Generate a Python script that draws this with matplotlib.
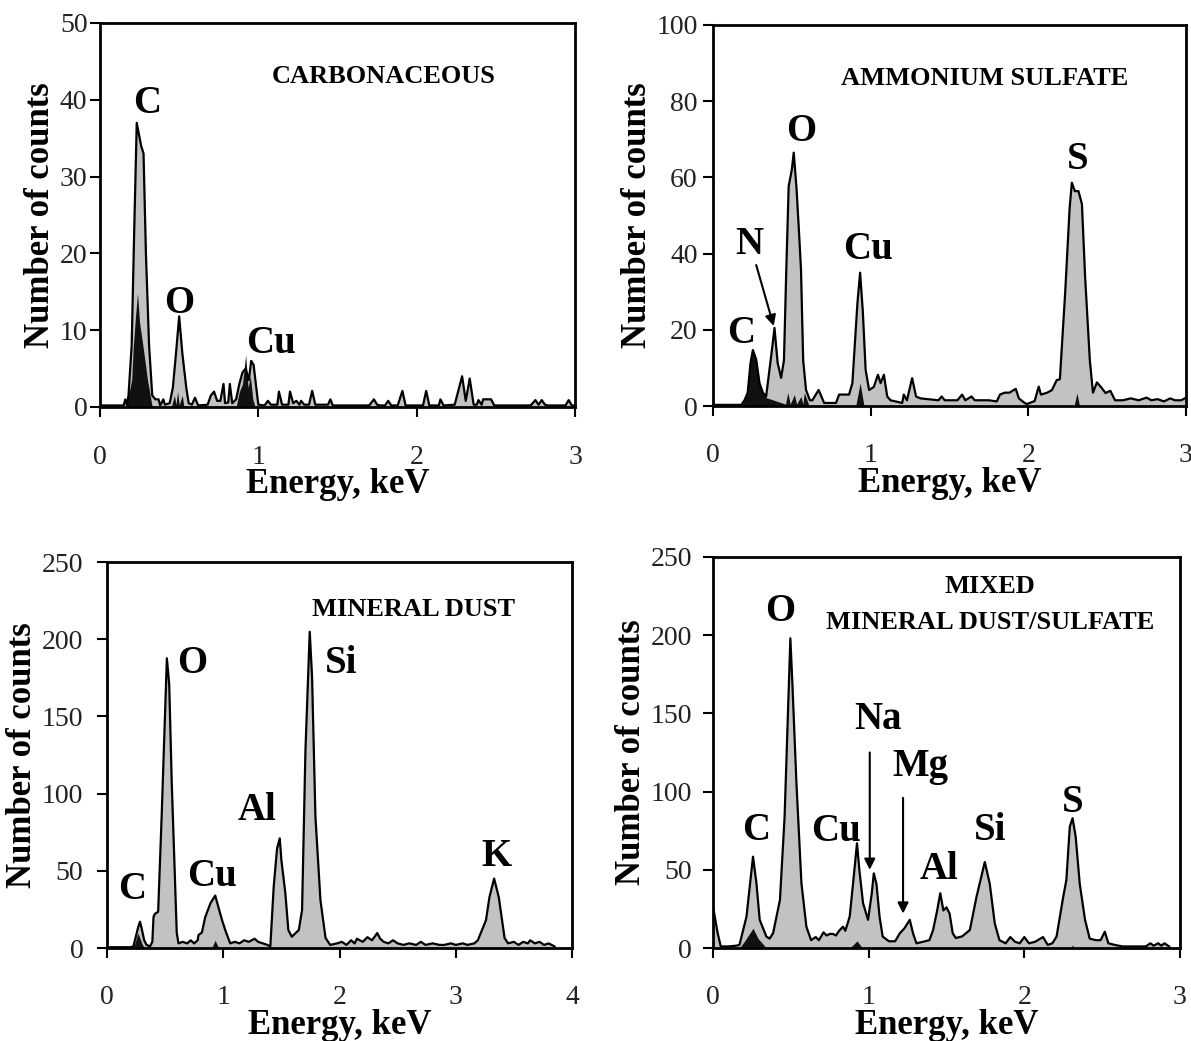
import numpy as np
import matplotlib
matplotlib.use("Agg")
import matplotlib.pyplot as plt

plt.rcParams['font.family'] = ['Liberation Serif', 'DejaVu Serif']

# ---- panel 1: carbonaceous (sample spectrum, grey) ----
e1 = [0.00, 0.15, 0.16, 0.17, 0.18, 0.20, 0.215, 0.232, 0.26, 0.275, 0.29, 0.31, 0.33, 0.35, 0.37,
      0.38, 0.40, 0.41, 0.44, 0.46, 0.48, 0.50, 0.52, 0.545, 0.56, 0.58, 0.60, 0.62, 0.68, 0.70,
      0.72, 0.74, 0.76, 0.78, 0.79, 0.81, 0.82, 0.835, 0.86, 0.88, 0.90, 0.92, 0.94, 0.955, 0.97,
      0.99, 1.00, 1.04, 1.06, 1.08, 1.12, 1.13, 1.15, 1.19, 1.20, 1.22, 1.24, 1.26, 1.27, 1.29,
      1.32, 1.34, 1.36, 1.44, 1.455, 1.47, 1.70, 1.73, 1.75, 1.77, 1.80, 1.82, 1.84, 1.88, 1.91,
      1.93, 2.04, 2.06, 2.08, 2.14, 2.15, 2.17, 2.24, 2.287, 2.31, 2.335, 2.36, 2.38, 2.39, 2.41,
      2.42, 2.47, 2.49, 2.72, 2.75, 2.77, 2.79, 2.81, 2.83, 2.94, 2.96, 2.98, 3.00]
c1 = [0.2, 0.2, 1.0, 0.3, 1.5, 8, 22, 37, 34, 33, 20, 8, 1.5, 1.0, 1.0,
      0.2, 1.0, 0.3, 0.5, 2.5, 7, 11.8, 7, 2.5, 0.5, 0.3, 1.2, 0.2, 0.3, 1.5,
      2.0, 0.8, 0.8, 3.0, 0.5, 0.6, 3.0, 0.5, 1.0, 3.0, 4.5, 5.0, 3.5, 6.0, 5.5,
      2.0, 0.3, 0.2, 0.8, 0.3, 0.3, 2.0, 0.3, 0.3, 2.0, 0.5, 0.8, 0.3, 0.8, 0.3,
      0.3, 2.1, 0.3, 0.3, 1.0, 0.2, 0.2, 1.0, 0.3, 0.2, 0.2, 0.8, 0.2, 0.2, 2.1,
      0.2, 0.2, 2.1, 0.2, 0.2, 1.0, 0.2, 0.3, 4.0, 0.8, 3.7, 0.3, 0.3, 0.9, 0.3,
      1.0, 1.0, 0.2, 0.2, 0.9, 0.3, 0.9, 0.3, 0.2, 0.2, 0.9, 0.2, 0.2]
# substrate / background spectrum (black)
eb1 = [0.00, 0.16, 0.18, 0.20, 0.21, 0.225, 0.237, 0.25, 0.275, 0.30, 0.33, 0.45, 0.47, 0.48,
       0.49, 0.50, 0.52, 0.53, 0.86, 0.88, 0.90, 0.92, 0.935, 0.95, 0.965, 0.98, 3.00]
cb1 = [0, 0, 1.5, 3.5, 7.8, 12, 14.8, 11, 7.4, 3.5, 0, 0, 1.5, 0.3,
       2.0, 0.3, 1.5, 0, 0, 2.0, 3.0, 6.8, 2.5, 4.0, 1.0, 0, 0]

# ---- panel 2: ammonium sulfate ----
e2 = [0.00, 0.18, 0.20, 0.22, 0.238, 0.253, 0.274, 0.295, 0.316, 0.337, 0.358, 0.379, 0.39, 0.41,
      0.432, 0.45, 0.465, 0.48, 0.50, 0.512, 0.53, 0.545, 0.558, 0.572, 0.59, 0.615, 0.63, 0.67,
      0.705, 0.74, 0.78, 0.80, 0.863, 0.884, 0.916, 0.933, 0.95, 0.968, 0.99, 1.02, 1.046, 1.063,
      1.084, 1.105, 1.126, 1.20, 1.21, 1.23, 1.263, 1.288, 1.316, 1.43, 1.45, 1.47, 1.55, 1.58,
      1.60, 1.64, 1.66, 1.75, 1.80, 1.82, 1.85, 1.88, 1.92, 1.94, 1.97, 1.99, 2.04, 2.066, 2.08,
      2.12, 2.15, 2.18, 2.20, 2.234, 2.262, 2.276, 2.295, 2.318, 2.34, 2.36, 2.39, 2.41, 2.435,
      2.46, 2.49, 2.52, 2.55, 2.60, 2.65, 2.70, 2.75, 2.78, 2.82, 2.86, 2.90, 2.93, 2.97, 3.00]
c2 = [0.3, 0.3, 1.5, 3.5, 11.3, 14.7, 12.2, 6, 3.5, 2.5, 9.5, 16.5, 20.5, 11.3,
      7.4, 12, 36, 57.7, 62, 66.5, 57, 46, 36, 12, 4.2, 1.5, 1.5, 4.2,
      0.8, 0.8, 0.8, 3.0, 3.0, 6, 27, 35, 25, 9.5, 4.2, 5, 8.2, 6,
      8.2, 2.5, 1.5, 0.8, 3.0, 1.5, 7.3, 2.5, 2.0, 1.5, 2.5, 1.5, 1.5, 3.0,
      1.5, 2.5, 1.5, 1.5, 1.2, 3.0, 3.5, 3.5, 4.5, 2.0, 1.0, 0.5, 1.3, 5.1, 3.0,
      3.5, 4.2, 6.8, 7.0, 30, 52, 58.6, 56.4, 56.4, 53, 34, 12, 3.5, 6.2,
      5, 3.4, 4, 1.5, 1.5, 2.0, 1.5, 2.2, 1.5, 1.8, 1.2, 2.0, 1.5, 1.5, 2.2]
eb2 = [0.00, 0.18, 0.20, 0.22, 0.238, 0.253, 0.274, 0.295, 0.316, 0.337, 0.46, 0.474, 0.49, 0.516,
       0.53, 0.558, 0.57, 0.579, 0.61, 0.905, 0.933, 0.958, 2.29, 2.308, 2.325, 3.00]
cb2 = [0, 0, 1.5, 3.5, 11.3, 14.7, 12.2, 6, 3.5, 2.2, 0.5, 3.5, 0.5, 3.0,
       0.5, 2.5, 0.5, 3.5, 0, 0, 6, 0, 0, 3.4, 0, 0]

# ---- panel 3: mineral dust ----
e3 = [0.00, 0.20, 0.227, 0.25, 0.27, 0.284, 0.30, 0.32, 0.34, 0.356, 0.37, 0.39, 0.40, 0.41, 0.44,
      0.47, 0.515, 0.535, 0.557, 0.60, 0.615, 0.65, 0.69, 0.72, 0.75, 0.78, 0.787, 0.816, 0.845,
      0.89, 0.931, 0.96, 0.99, 1.02, 1.06, 1.10, 1.14, 1.18, 1.22, 1.27, 1.30, 1.34, 1.38, 1.405,
      1.434, 1.463, 1.486, 1.50, 1.534, 1.56, 1.59, 1.62, 1.65, 1.678, 1.707, 1.744, 1.764, 1.793,
      1.836, 1.88, 1.92, 1.98, 2.02, 2.06, 2.10, 2.13, 2.15, 2.20, 2.24, 2.28, 2.325, 2.35, 2.38,
      2.42, 2.46, 2.50, 2.55, 2.60, 2.66, 2.70, 2.74, 2.80, 2.86, 2.90, 2.96, 3.00, 3.06, 3.10,
      3.16, 3.19, 3.26, 3.29, 3.33, 3.37, 3.42, 3.45, 3.50, 3.54, 3.58, 3.62, 3.64, 3.68, 3.72,
      3.76, 3.80, 3.85]
c3 = [0.5, 0.5, 1, 8, 14, 17, 12, 5, 2, 1.5, 1, 4, 20, 22, 23.5,
      85, 187.6, 171, 107, 9.7, 3, 4, 3, 5, 3, 5, 8.4, 10, 20,
      29, 34, 26, 18, 11, 3, 4, 3, 5, 4, 6, 4, 3, 2, 1,
      39.7, 64.5, 71, 57, 35.6, 11.6, 7.3, 9.5, 11.6, 24.6, 128, 204.8, 175.7, 85,
      31, 6.5, 2, 3, 4, 2, 5, 3, 6, 4, 7, 5, 9.7, 6, 4,
      3, 5, 3, 2, 3, 2, 4, 2, 3, 2, 2, 3, 2, 3, 2,
      3, 5, 18, 33, 45, 33, 6.5, 3, 4, 2, 4, 3, 5, 3, 4,
      2, 3, 1]
eb3 = [0.00, 0.22, 0.24, 0.265, 0.28, 0.30, 0.32, 0.90, 0.93, 0.96, 3.85]
cb3 = [0, 0, 3, 9.7, 7, 3, 0, 0, 5, 0, 0]

# ---- panel 4: mixed mineral dust / sulfate ----
e4 = [0.00, 0.03, 0.05, 0.10, 0.15, 0.17, 0.215, 0.257, 0.279, 0.30, 0.343, 0.364, 0.386, 0.43,
      0.46, 0.497, 0.51, 0.536, 0.568, 0.60, 0.63, 0.66, 0.68, 0.71, 0.73, 0.75, 0.77, 0.79, 0.81,
      0.835, 0.85, 0.878, 0.90, 0.925, 0.94, 0.964, 0.996, 1.02, 1.033, 1.05, 1.07, 1.09, 1.13,
      1.17, 1.20, 1.23, 1.264, 1.285, 1.307, 1.35, 1.39, 1.414, 1.44, 1.46, 1.48, 1.50, 1.52, 1.54,
      1.56, 1.60, 1.65, 1.693, 1.746, 1.778, 1.81, 1.84, 1.88, 1.91, 1.94, 1.97, 2.00, 2.03, 2.07,
      2.12, 2.15, 2.18, 2.207, 2.25, 2.27, 2.292, 2.31, 2.33, 2.356, 2.39, 2.42, 2.46, 2.49, 2.517,
      2.54, 2.58, 2.63, 2.70, 2.78, 2.81, 2.83, 2.86, 2.88, 2.90, 2.93]
c4 = [26.4, 9.5, 1, 1, 1.5, 2, 20, 58.4, 41.5, 18, 7.3, 6, 9.5, 30.7,
      84, 198, 169, 105.5, 41.5, 13.6, 5, 7, 5, 10, 8, 9, 9, 8, 11,
      13.6, 11, 20, 41.5, 67, 50, 28.6, 18, 35, 47.7, 41, 20, 7.3, 4.3,
      4.3, 9.4, 12.6, 18, 9.4, 3, 4, 5, 11.5, 24, 35, 24, 26, 22, 9.4,
      6.4, 7.4, 11.5, 32.8, 55, 41, 15.8, 5, 3, 7, 4, 3, 7, 3, 4,
      7, 2, 3, 7.3, 32.8, 43.5, 77.6, 83, 71, 41, 18, 6, 5, 5, 10.4,
      3, 2, 1, 1, 1, 3, 1.5, 3, 1.5, 3, 1]
eb4 = [0.00, 0.17, 0.20, 0.257, 0.29, 0.343, 0.88, 0.925, 0.96, 2.30, 2.31, 2.32, 2.93]
cb4 = [0, 0, 4, 12.6, 6, 0, 0, 4.5, 0, 0, 2, 0, 0]

GREY = '#c2c2c2'
LBL = dict(fontsize=28, fontweight='bold', ha='center', va='center')
TTL = dict(fontsize=19, fontweight='bold', ha='center', va='center')
ARROW = dict(arrowstyle='-|>', lw=1.5, color='k', mutation_scale=16, shrinkA=0, shrinkB=0)


def draw_spectrum(ax, e, c, eb, cb, xmax, ymax, xticks, yticks, ypad):
    ax.fill_between(e, c, 0, color=GREY, lw=0, zorder=1)
    ax.fill_between(eb, cb, 0, color='#111111', lw=0, zorder=2)
    ax.plot(e, c, color='k', lw=1.6, zorder=3)
    ax.set_xlim(0, xmax)
    ax.set_ylim(0, ymax)
    ax.set_xticks(xticks)
    ax.set_yticks(yticks)
    for s in ax.spines.values():
        s.set_linewidth(2.0)
    ax.tick_params(axis='both', direction='out', length=7, width=1.5, labelsize=20,
                   labelcolor='#222222')
    ax.tick_params(axis='x', pad=20)
    ax.tick_params(axis='y', pad=ypad)
    ax.set_xlabel('Energy, keV', fontsize=25, fontweight='bold', labelpad=-1)
    ax.set_ylabel('Number of counts', fontsize=25, fontweight='bold', labelpad=2)


fig = plt.figure(figsize=(11.91, 10.41), dpi=100)
W, H = 1191, 1041
ax1 = fig.add_axes([100 / W, 1 - 407 / H, 475 / W, 384 / H])
ax2 = fig.add_axes([713 / W, 1 - 406 / H, 473 / W, 381 / H])
ax3 = fig.add_axes([107 / W, 1 - 948 / H, 465 / W, 386 / H])
ax4 = fig.add_axes([713 / W, 1 - 948 / H, 467 / W, 391 / H])

draw_spectrum(ax1, e1, c1, eb1, cb1, 3.0, 50, [0, 1, 2, 3], [0, 10, 20, 30, 40, 50], 2)
ax1.text(0.30, 39.5, 'C', **LBL)
ax1.text(0.50, 13.5, 'O', **LBL)
ax1.text(1.08, 8.3, 'Cu', **LBL)
ax1.text(1.79, 43, 'CARBONACEOUS', **TTL)

draw_spectrum(ax2, e2, c2, eb2, cb2, 3.0, 100, [0, 1, 2, 3], [0, 20, 40, 60, 80, 100], 4)
ax2.text(0.18, 19, 'C', **LBL)
ax2.text(0.232, 42.4, 'N', **LBL)
ax2.text(0.56, 72, 'O', **LBL)
ax2.text(0.98, 41, 'Cu', **LBL)
ax2.text(2.31, 64.7, 'S', **LBL)
ax2.text(1.72, 86, 'AMMONIUM SULFATE', **TTL)
ax2.annotate('', xy=(0.385, 21), xytext=(0.274, 37), arrowprops=ARROW)

draw_spectrum(ax3, e3, c3, eb3, cb3, 4.0, 250, [0, 1, 2, 3, 4], [0, 50, 100, 150, 200, 250], 10)
ax3.text(0.213, 37.6, 'C', **LBL)
ax3.text(0.73, 184, 'O', **LBL)
ax3.text(0.90, 46, 'Cu', **LBL)
ax3.text(1.29, 89, 'Al', **LBL)
ax3.text(2.01, 184, 'Si', **LBL)
ax3.text(3.35, 59, 'K', **LBL)
ax3.text(2.64, 219, 'MINERAL DUST', **TTL)

draw_spectrum(ax4, e4, c4, eb4, cb4, 3.0, 250, [0, 1, 2, 3], [0, 50, 100, 150, 200, 250], 8)
ax4.text(0.43, 215, 'O', **LBL)
ax4.text(0.28, 75, 'C', **LBL)
ax4.text(0.79, 74.5, 'Cu', **LBL)
ax4.text(1.06, 146, 'Na', **LBL)
ax4.text(1.33, 116, 'Mg', **LBL)
ax4.text(1.45, 50, 'Al', **LBL)
ax4.text(1.78, 75, 'Si', **LBL)
ax4.text(2.31, 93, 'S', **LBL)
ax4.text(1.78, 231, 'MIXED', **TTL)
ax4.text(1.78, 208, 'MINERAL DUST/SULFATE', **TTL)
ax4.annotate('', xy=(1.007, 50), xytext=(1.007, 125), arrowprops=ARROW)
ax4.annotate('', xy=(1.221, 22), xytext=(1.221, 96), arrowprops=ARROW)

fig.savefig('out.png', dpi=100, facecolor='white')
